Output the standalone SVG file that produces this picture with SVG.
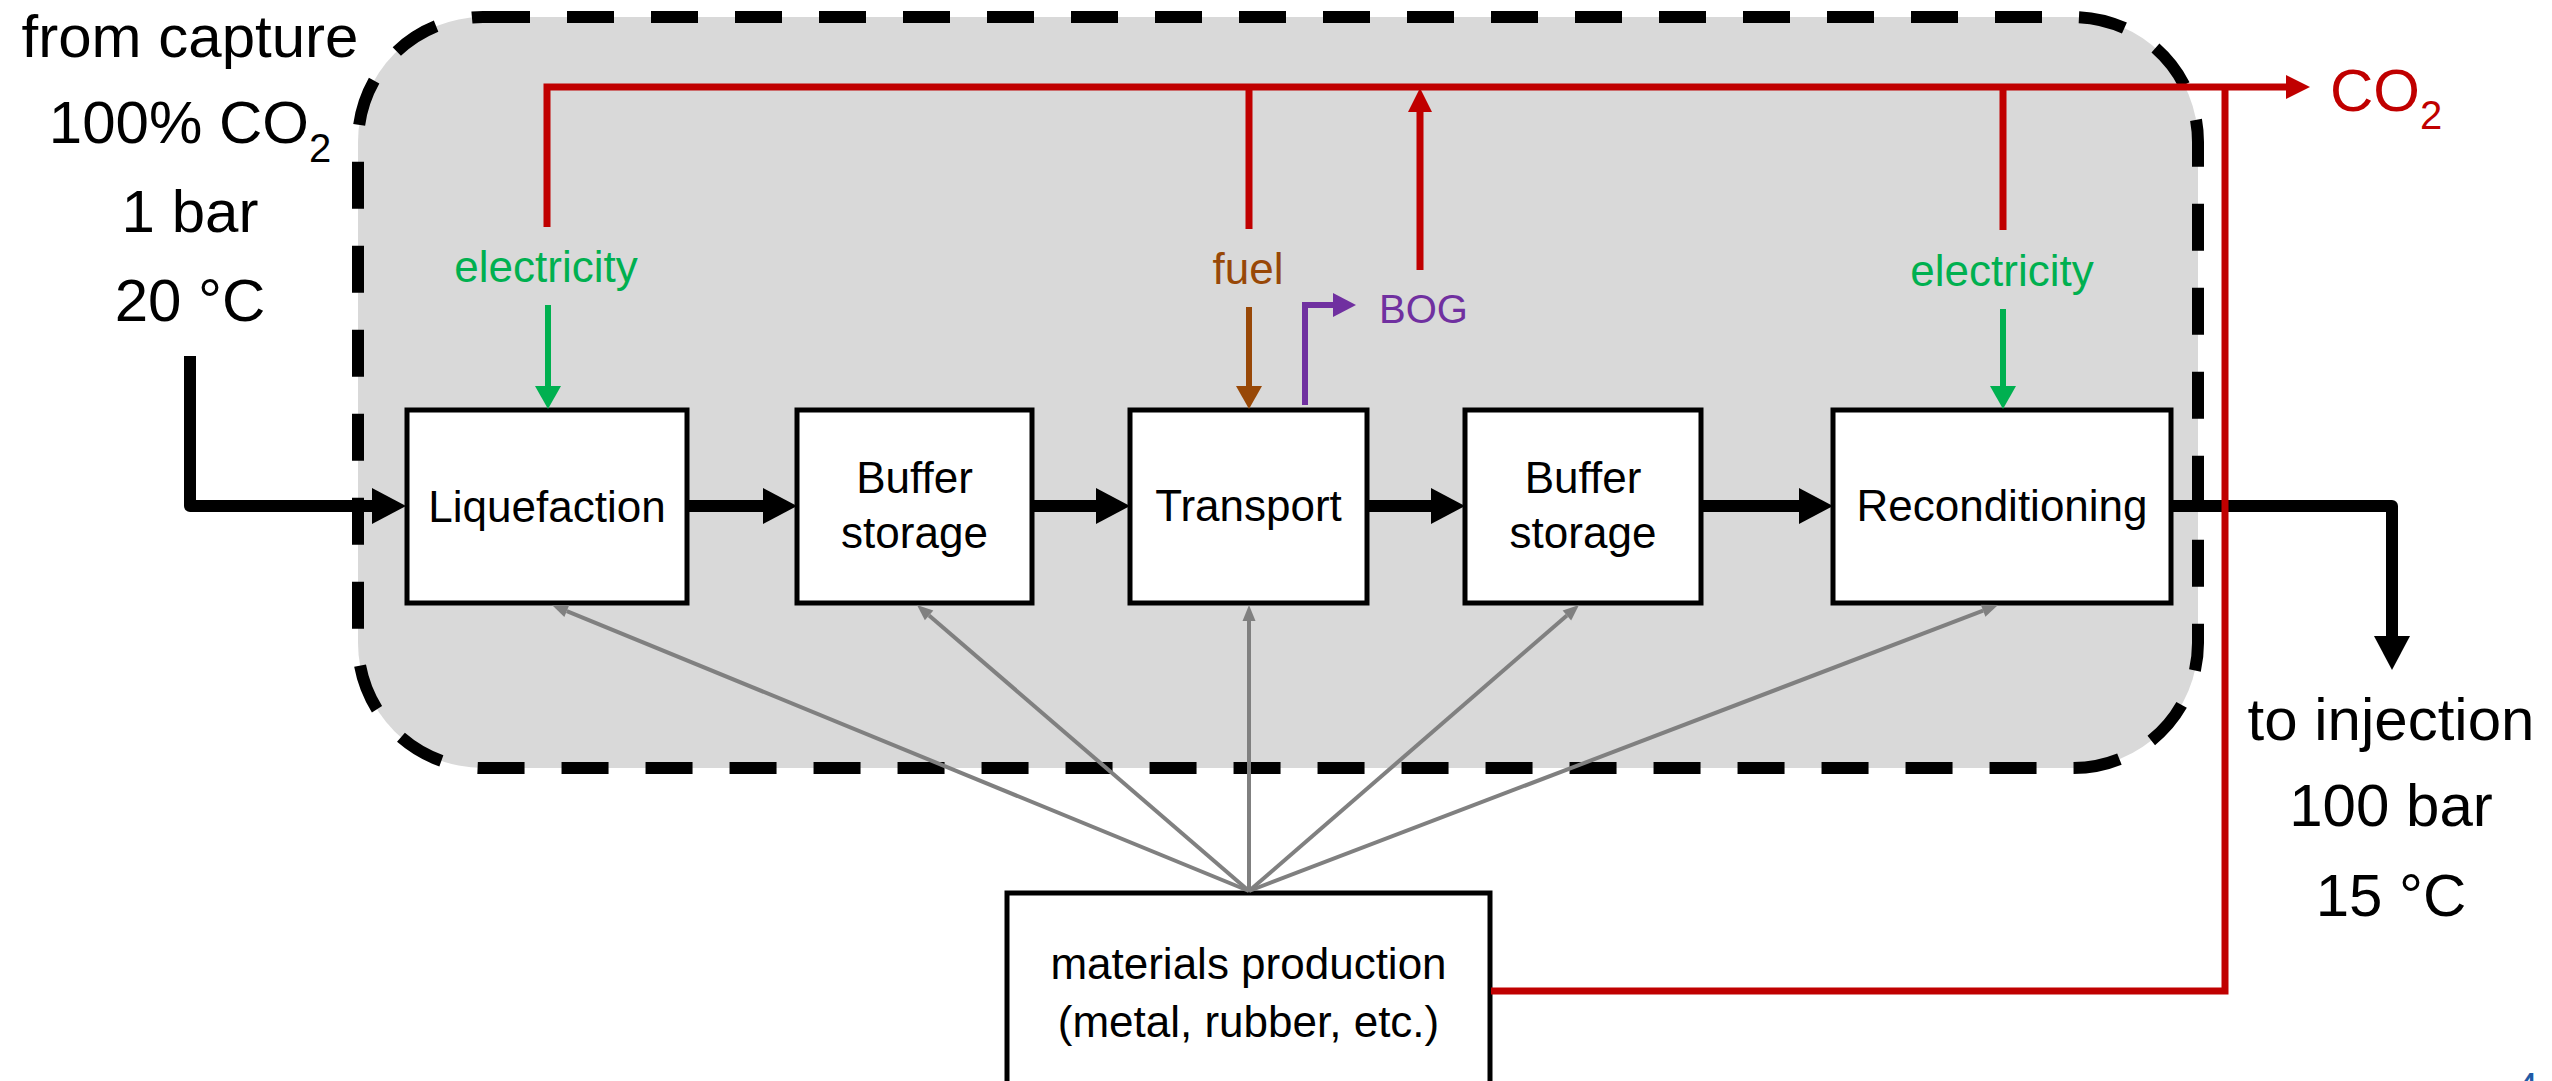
<svg xmlns="http://www.w3.org/2000/svg" width="2552" height="1081" viewBox="0 0 2552 1081">
<style>
text{font-family:"Liberation Sans",Arial,sans-serif;}
.big{font-size:60px;fill:#000;text-anchor:middle;}
.lbl{font-size:44px;fill:#000;text-anchor:middle;}
.box{fill:#fff;stroke:#000;stroke-width:5;}
.main{fill:none;stroke:#000;stroke-width:12;stroke-linejoin:round;}
.red{fill:none;stroke:#C00000;stroke-width:7;}
.gray{fill:none;stroke:#808080;stroke-width:4;}
.grn{fill:none;stroke:#00B050;stroke-width:6;}
.brn{fill:none;stroke:#984807;stroke-width:6;}
.pur{fill:none;stroke:#7030A0;stroke-width:6;}
</style>
<defs>
<marker id="ahBlack" markerUnits="userSpaceOnUse" markerWidth="36" markerHeight="36" refX="0" refY="18" orient="auto" overflow="visible"><path d="M0,0 L34,18 L0,36 z" fill="#000"/></marker>
<marker id="ahRed" markerUnits="userSpaceOnUse" markerWidth="24" markerHeight="24" refX="0" refY="12" orient="auto" overflow="visible"><path d="M0,0 L24,12 L0,24 z" fill="#C00000"/></marker>
<marker id="ahGreen" markerUnits="userSpaceOnUse" markerWidth="26" markerHeight="26" refX="0" refY="13" orient="auto" overflow="visible"><path d="M0,0 L23,13 L0,26 z" fill="#00B050"/></marker>
<marker id="ahBrown" markerUnits="userSpaceOnUse" markerWidth="26" markerHeight="26" refX="0" refY="13" orient="auto" overflow="visible"><path d="M0,0 L23,13 L0,26 z" fill="#984807"/></marker>
<marker id="ahPurple" markerUnits="userSpaceOnUse" markerWidth="24" markerHeight="24" refX="0" refY="12" orient="auto" overflow="visible"><path d="M0,0 L23,12 L0,24 z" fill="#7030A0"/></marker>
<marker id="ahGray" markerUnits="userSpaceOnUse" markerWidth="16" markerHeight="13" refX="0" refY="6.5" orient="auto" overflow="visible"><path d="M0,0 L16,6.5 L0,13 z" fill="#808080"/></marker>
</defs>

<g id="system-boundary">
<rect x="358" y="17" width="1840" height="751" rx="125" ry="125" fill="#D9D9D9" stroke="#000" stroke-width="12" stroke-dasharray="47 37"/>
</g>

<g id="inlet-label">
<text class="big" x="190" y="57">from capture</text>
<text class="big" x="190" y="143">100% CO<tspan font-size="40" dy="19">2</tspan></text>
<text class="big" x="190" y="232">1 bar</text>
<text class="big" x="190" y="321">20 °C</text>
</g>

<g id="outlet-label">
<text class="big" x="2391" y="740">to injection</text>
<text class="big" x="2391" y="826">100 bar</text>
<text class="big" x="2391" y="916">15 °C</text>
</g>

<g id="liquefaction">
<rect class="box" x="407" y="410" width="280" height="193"/>
<text class="lbl" x="547" y="522">Liquefaction</text>
</g>
<g id="buffer-storage-1">
<rect class="box" x="797" y="410" width="235" height="193"/>
<text class="lbl" x="914.5" y="493">Buffer</text>
<text class="lbl" x="914.5" y="548">storage</text>
</g>
<g id="transport">
<rect class="box" x="1130" y="410" width="237" height="193"/>
<text class="lbl" x="1248.5" y="521">Transport</text>
</g>
<g id="buffer-storage-2">
<rect class="box" x="1465" y="410" width="236" height="193"/>
<text class="lbl" x="1583" y="493">Buffer</text>
<text class="lbl" x="1583" y="548">storage</text>
</g>
<g id="reconditioning">
<rect class="box" x="1833" y="410" width="338" height="193"/>
<text class="lbl" x="2002" y="521">Reconditioning</text>
</g>
<g id="materials-production">
<rect class="box" x="1007" y="893" width="483" height="200"/>
<text class="lbl" x="1248.5" y="979">materials production</text>
<text class="lbl" x="1248.5" y="1037">(metal, rubber, etc.)</text>
</g>

<g id="labels">
<text class="lbl" x="546" y="282" fill="#00B050" style="fill:#00B050">electricity</text>
<text class="lbl" x="2002" y="286" style="fill:#00B050">electricity</text>
<text class="lbl" x="1248" y="284" style="fill:#984807">fuel</text>
<text x="1379" y="323" font-size="40" fill="#7030A0">BOG</text>
<text x="2330" y="111" font-size="60" fill="#C00000">CO<tspan font-size="40" dy="18">2</tspan></text>
</g>

<g id="connectors">
<path class="main" d="M190,356 V506 H372" marker-end="url(#ahBlack)"/>
<path class="main" d="M687,506 H763" marker-end="url(#ahBlack)"/>
<path class="main" d="M1032,506 H1096" marker-end="url(#ahBlack)"/>
<path class="main" d="M1367,506 H1431" marker-end="url(#ahBlack)"/>
<path class="main" d="M1701,506 H1799" marker-end="url(#ahBlack)"/>
<path class="main" d="M2171,506 H2392 V636" marker-end="url(#ahBlack)"/>

<path class="gray" d="M1249,891 L566.8,611.1" marker-end="url(#ahGray)"/>
<path class="gray" d="M1249,891 L929.1,615.4" marker-end="url(#ahGray)"/>
<path class="gray" d="M1249,891 L1249,621" marker-end="url(#ahGray)"/>
<path class="gray" d="M1249,891 L1566.9,615.5" marker-end="url(#ahGray)"/>
<path class="gray" d="M1249,891 L1983.1,610.7" marker-end="url(#ahGray)"/>

<path class="grn" d="M548,305 V386" marker-end="url(#ahGreen)"/>
<path class="grn" d="M2003,309 V386" marker-end="url(#ahGreen)"/>
<path class="brn" d="M1249,307 V386" marker-end="url(#ahBrown)"/>
<path class="pur" d="M1305,405 V305 H1333" marker-end="url(#ahPurple)"/>

<path class="red" d="M547,227 V87 H2286" marker-end="url(#ahRed)"/>
<path class="red" d="M1249,229 V87"/>
<path class="red" d="M2003,230 V87"/>
<path class="red" d="M1420,270 V112" marker-end="url(#ahRed)"/>
<path class="red" d="M1491,991 H2225 V87"/>
</g>

<text x="2516" y="1101" font-size="40" fill="#1F5AA6">4</text>
</svg>
